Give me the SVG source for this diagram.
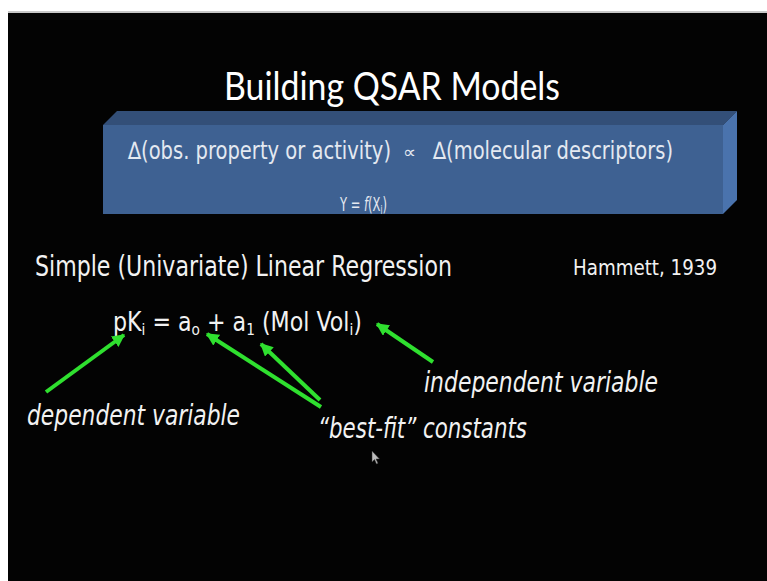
<svg xmlns="http://www.w3.org/2000/svg" width="767" height="581" viewBox="0 0 767 581">
  <defs>
    <marker id="arrow" viewBox="0 0 10 10" refX="9" refY="5" markerWidth="3.2" markerHeight="3.2" orient="auto" markerUnits="strokeWidth">
      <path d="M0,0 L10,5 L0,10 z" fill="#2fe02f"/>
    </marker>
  </defs>
  <style>
    .txt { fill: #f2f2f2; font-family: "DejaVu Sans", "Liberation Sans", sans-serif; }
    .box-txt { fill: #e4e9f1; font-family: "DejaVu Sans", "Liberation Sans", sans-serif; }
    .title { fill: #ffffff; font-family: Lato, "Open Sans", sans-serif; font-size: 38px; }
    .note { fill: #f2f2f2; font-family: "DejaVu Sans", "Liberation Sans", sans-serif; font-style: italic; font-size: 28px; }
    .sub { font-size: 62%; }
    .arrow { stroke: #2fe02f; stroke-width: 4; fill: none; marker-end: url(#arrow); }
  </style>

  <!-- page background -->
  <rect x="0" y="0" width="767" height="581" fill="#ffffff"/>
  <rect x="8" y="11" width="759" height="2" fill="#c8c8c8"/>
  <rect x="8" y="13" width="759" height="568" fill="#030303"/>

  <!-- title -->
  <g id="title">
    <text class="title" x="392" y="100" text-anchor="middle" textLength="336" lengthAdjust="spacingAndGlyphs">Building QSAR Models</text>
  </g>

  <!-- bevelled banner -->
  <g id="banner">
    <polygon points="103,125 117,111 737,111 723,125" fill="#334f78"/>
    <polygon points="723,125 737,111 737,200 723,214" fill="#4a73ad"/>
    <rect x="103" y="125" width="620" height="89" fill="#3e6192"/>
    <text class="box-txt" x="128" y="159" font-size="24" textLength="263" lengthAdjust="spacingAndGlyphs">∆(obs. property or activity)</text>
    <text class="box-txt" x="403" y="158" font-size="17" textLength="13" lengthAdjust="spacingAndGlyphs">∝</text>
    <text class="box-txt" x="433" y="159" font-size="24" textLength="240" lengthAdjust="spacingAndGlyphs">∆(molecular descriptors)</text>
    <text class="box-txt" x="340" y="211" font-size="19" textLength="47" lengthAdjust="spacingAndGlyphs">Y = <tspan font-style="italic">f</tspan>(X<tspan class="sub" dy="3">i</tspan><tspan dy="-3">)</tspan></text>
  </g>

  <!-- headings -->
  <g id="heading">
    <text class="txt" x="35" y="276" font-size="28" textLength="417" lengthAdjust="spacingAndGlyphs">Simple (Univariate) Linear Regression</text>
  </g>
  <g id="citation">
    <text class="txt" x="573" y="275" font-size="21" textLength="144" lengthAdjust="spacingAndGlyphs">Hammett, 1939</text>
  </g>

  <!-- regression equation -->
  <g id="equation">
    <text class="txt" x="113" y="331" font-size="26" textLength="249" lengthAdjust="spacingAndGlyphs">pK<tspan class="sub" dy="4">i</tspan><tspan dy="-4"> = a</tspan><tspan class="sub" dy="4">o</tspan><tspan dy="-4"> + a</tspan><tspan class="sub" dy="4">1</tspan><tspan dy="-4"> (Mol Vol</tspan><tspan class="sub" dy="4">i</tspan><tspan dy="-4">)</tspan></text>
  </g>

  <!-- annotations -->
  <g id="dependent-label">
    <text class="note" x="27" y="425" textLength="213" lengthAdjust="spacingAndGlyphs">dependent variable</text>
  </g>
  <g id="constants-label">
    <text class="note" x="318" y="438" textLength="209" lengthAdjust="spacingAndGlyphs">“best-fit” constants</text>
  </g>
  <g id="independent-label">
    <text class="note" x="424" y="392" textLength="234" lengthAdjust="spacingAndGlyphs">independent variable</text>
  </g>

  <!-- pointer arrows -->
  <g id="connectors">
    <line class="arrow" x1="46" y1="392" x2="124" y2="335"/>
    <line class="arrow" x1="321" y1="407" x2="207" y2="334"/>
    <line class="arrow" x1="320" y1="400" x2="261" y2="344"/>
    <line class="arrow" x1="433" y1="362" x2="377" y2="324"/>
  </g>

  <!-- mouse pointer -->
  <g id="cursor">
    <polygon points="372,451 372,462 374.5,459.5 376.5,464 378,463.3 376,459 379.5,459" fill="#bdbdbd" stroke="#333" stroke-width="0.5"/>
  </g>
</svg>
